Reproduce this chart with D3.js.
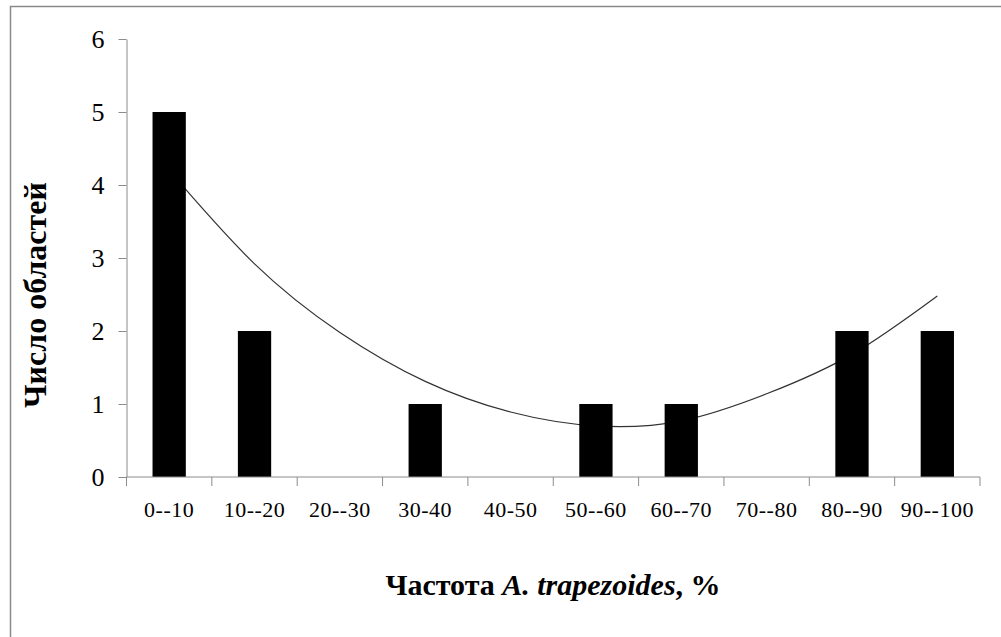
<!DOCTYPE html>
<html>
<head>
<meta charset="utf-8">
<script src="https://cdn.jsdelivr.net/npm/d3@7/dist/d3.min.js"></script>
<style>
  body { margin: 0; background: #fff; }
  svg { display: block; }
  text { font-family: "Liberation Serif", "Times New Roman", serif; }
</style>
</head>
<body>
<script>
// categories (frequency classes, %)
const categories = ['0--10', '10--20', '20--30', '30-40', '40-50', '50--60', '60--70', '70--80', '80--90', '90--100']
// number of regions per class
const counts = [5, 2, 0, 1, 0, 1, 1, 0, 2, 2]
// trend line values read at each class centre
const trend = [4.2, 2.92, 1.98, 1.31, 0.89, 0.70, 0.77, 1.14, 1.68, 2.48]
const yTicks = [0, 1, 2, 3, 4, 5, 6]

const width = 1001
const height = 637
const margin = { left: 126.5, right: 21, top: 39, bottom: 160 }
const axisColor = '#8c8c8c'

const svg = d3.select('body')
  .append('svg')
  .attr('width', width)
  .attr('height', height)

// outer frame (only top and left edges are visible in the picture)
svg.append('path')
  .attr('d', `M10.5,${height}V6.5H${width}`)
  .attr('fill', 'none')
  .attr('stroke', '#8a8a8a')
  .attr('stroke-width', 1.5)

const x = d3.scaleBand()
  .domain(categories)
  .range([margin.left, width - margin.right])
  .padding(0)

const y = d3.scaleLinear()
  .domain([0, 6])
  .range([height - margin.bottom, margin.top])

// trend line (drawn under the bars)
const line = d3.line()
  .x((d, i) => x(categories[i]) + x.bandwidth() / 2)
  .y(d => y(d))
  .curve(d3.curveNatural)
svg.append('path')
  .datum(trend)
  .attr('d', line)
  .attr('fill', 'none')
  .attr('stroke', '#333')
  .attr('stroke-width', 1.2)

// bars
const barW = x.bandwidth() * 0.39
svg.selectAll('.bar')
  .data(counts)
  .enter()
  .append('rect')
  .attr('class', 'bar')
  .attr('x', (d, i) => x(categories[i]) + (x.bandwidth() - barW) / 2)
  .attr('y', d => y(d))
  .attr('width', barW)
  .attr('height', d => y(0) - y(d))
  .attr('fill', '#000')

// y axis
const yAxis = svg.append('g')
  .attr('transform', `translate(${margin.left},0)`)
  .call(d3.axisLeft(y).tickValues(yTicks).tickFormat(d3.format('d')).tickSize(8).tickSizeOuter(0).tickPadding(14))
yAxis.select('.domain').attr('stroke', axisColor)
yAxis.selectAll('.tick line').attr('stroke', axisColor)
yAxis.selectAll('.tick text')
  .attr('fill', '#000')
  .style('font-size', '26px')
  .attr('dy', '0.34em')

// x axis: line, boundary ticks and centred labels
const xAxis = svg.append('g')
  .attr('transform', `translate(0,${y(0)})`)
xAxis.append('line')
  .attr('x1', x.range()[0])
  .attr('x2', x.range()[1])
  .attr('stroke', axisColor)
const bounds = categories.map(c => x(c)).concat([x.range()[1]])
xAxis.selectAll('.xtick')
  .data(bounds)
  .enter()
  .append('line')
  .attr('class', 'xtick')
  .attr('x1', d => d)
  .attr('x2', d => d)
  .attr('y1', 0)
  .attr('y2', 9)
  .attr('stroke', axisColor)
xAxis.selectAll('.xlabel')
  .data(categories)
  .enter()
  .append('text')
  .attr('class', 'xlabel')
  .attr('x', d => x(d) + x.bandwidth() / 2)
  .attr('y', 40)
  .attr('text-anchor', 'middle')
  .style('font-size', '22px')
  .style('letter-spacing', '0.5px')
  .text(d => d)

// axis titles
svg.append('text')
  .attr('transform', 'translate(46,295) rotate(-90)')
  .attr('text-anchor', 'middle')
  .style('font-size', '32px')
  .style('font-weight', 'bold')
  .text('Число областей')

const xTitle = svg.append('text')
  .attr('x', 553)
  .attr('y', 595)
  .attr('text-anchor', 'middle')
  .style('font-size', '30px')
  .style('font-weight', 'bold')
xTitle.append('tspan').text('Частота ')
xTitle.append('tspan').style('font-style', 'italic').text('A. trapezoides')
xTitle.append('tspan').text(', %')
</script>
</body>
</html>
